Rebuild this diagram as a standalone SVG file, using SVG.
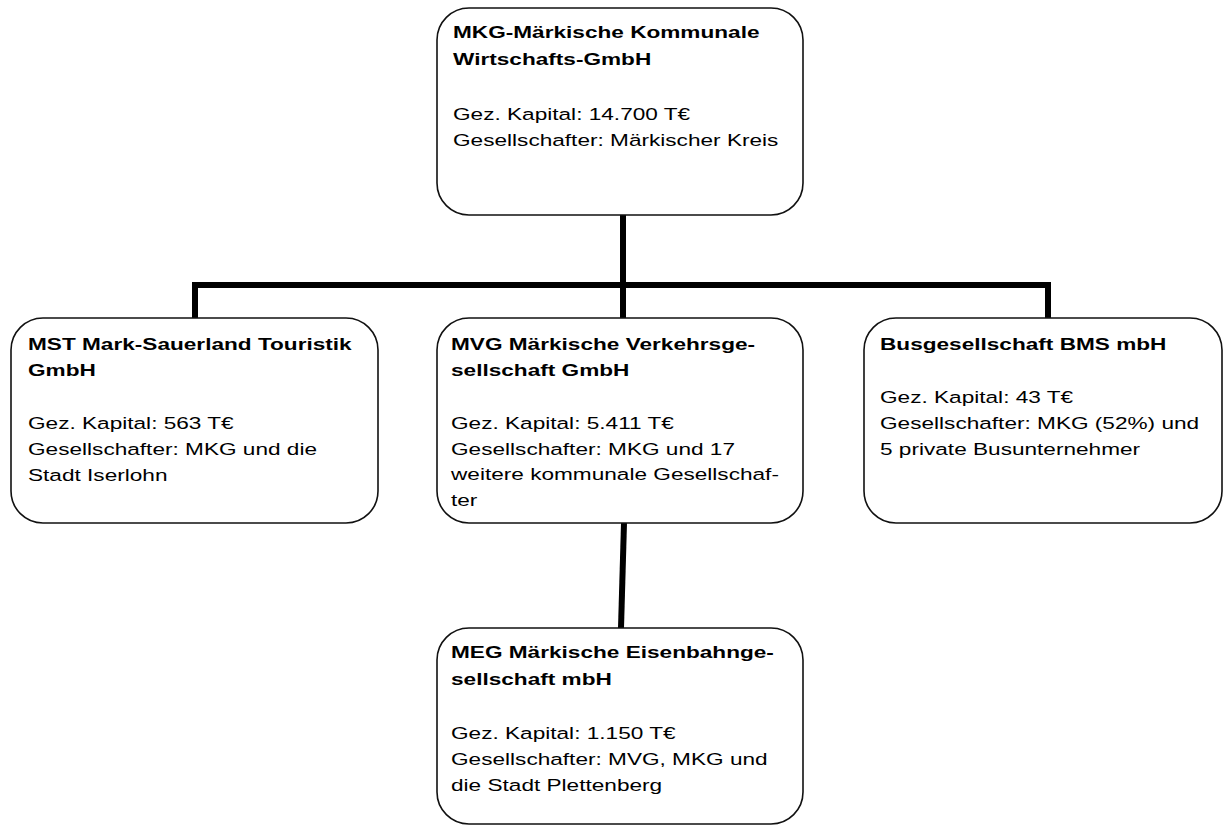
<svg xmlns="http://www.w3.org/2000/svg" width="1226" height="826" viewBox="0 0 1226 826">
<style>
.box{fill:#fff;stroke:#111;stroke-width:1.6}
.t{font-family:"Liberation Sans",Arial,sans-serif;font-size:17px;fill:#000}
.b{font-weight:bold}
.c{stroke:#000;stroke-width:6;fill:none;stroke-linecap:butt}
</style>
<rect width="1226" height="826" fill="#fff"/>
<g id="connectors">
<line class="c" x1="623" y1="215" x2="623" y2="285"/>
<polyline class="c" points="195,318 195,285 1048,285 1048,318"/>
<line class="c" x1="623" y1="285" x2="623" y2="318"/>
<line class="c" x1="624" y1="523" x2="621" y2="628"/>
</g>
<g id="mkg">
<rect class="box" x="437" y="8" width="366" height="207" rx="32"/>
<text class="t b" transform="translate(453 38) scale(1.33 1)"><tspan x="0" y="0">MKG-Märkische Kommunale</tspan><tspan x="0" y="27">Wirtschafts-GmbH</tspan></text>
<text class="t" transform="translate(453 120) scale(1.33 1)"><tspan x="0" y="0">Gez. Kapital: 14.700 T€</tspan><tspan x="0" y="26">Gesellschafter: Märkischer Kreis</tspan></text>
</g>
<g id="mst">
<rect class="box" x="11" y="318" width="367" height="205" rx="32"/>
<text class="t b" transform="translate(28 350) scale(1.33 1)"><tspan x="0" y="0">MST Mark-Sauerland Touristik</tspan><tspan x="0" y="26">GmbH</tspan></text>
<text class="t" transform="translate(28 429) scale(1.33 1)"><tspan x="0" y="0">Gez. Kapital: 563 T€</tspan><tspan x="0" y="26">Gesellschafter: MKG und die</tspan><tspan x="0" y="52">Stadt Iserlohn</tspan></text>
</g>
<g id="mvg">
<rect class="box" x="437" y="318" width="366" height="205" rx="32"/>
<text class="t b" transform="translate(451 350) scale(1.33 1)"><tspan x="0" y="0">MVG Märkische Verkehrsge-</tspan><tspan x="0" y="26">sellschaft GmbH</tspan></text>
<text class="t" transform="translate(451 429) scale(1.33 1)"><tspan x="0" y="0">Gez. Kapital: 5.411 T€</tspan><tspan x="0" y="26">Gesellschafter: MKG und 17</tspan><tspan x="0" y="51">weitere kommunale Gesellschaf-</tspan><tspan x="0" y="77">ter</tspan></text>
</g>
<g id="bms">
<rect class="box" x="864" y="318" width="358" height="205" rx="32"/>
<text class="t b" transform="translate(880 350) scale(1.33 1)">Busgesellschaft BMS mbH</text>
<text class="t" transform="translate(880 403) scale(1.33 1)"><tspan x="0" y="0">Gez. Kapital: 43 T€</tspan><tspan x="0" y="26">Gesellschafter: MKG (52%) und</tspan><tspan x="0" y="52">5 private Busunternehmer</tspan></text>
</g>
<g id="meg">
<rect class="box" x="437" y="628" width="366" height="196" rx="32"/>
<text class="t b" transform="translate(451 658) scale(1.33 1)"><tspan x="0" y="0">MEG Märkische Eisenbahnge-</tspan><tspan x="0" y="27">sellschaft mbH</tspan></text>
<text class="t" transform="translate(451 739) scale(1.33 1)"><tspan x="0" y="0">Gez. Kapital: 1.150 T€</tspan><tspan x="0" y="26">Gesellschafter: MVG, MKG und</tspan><tspan x="0" y="52">die Stadt Plettenberg</tspan></text>
</g>
</svg>
